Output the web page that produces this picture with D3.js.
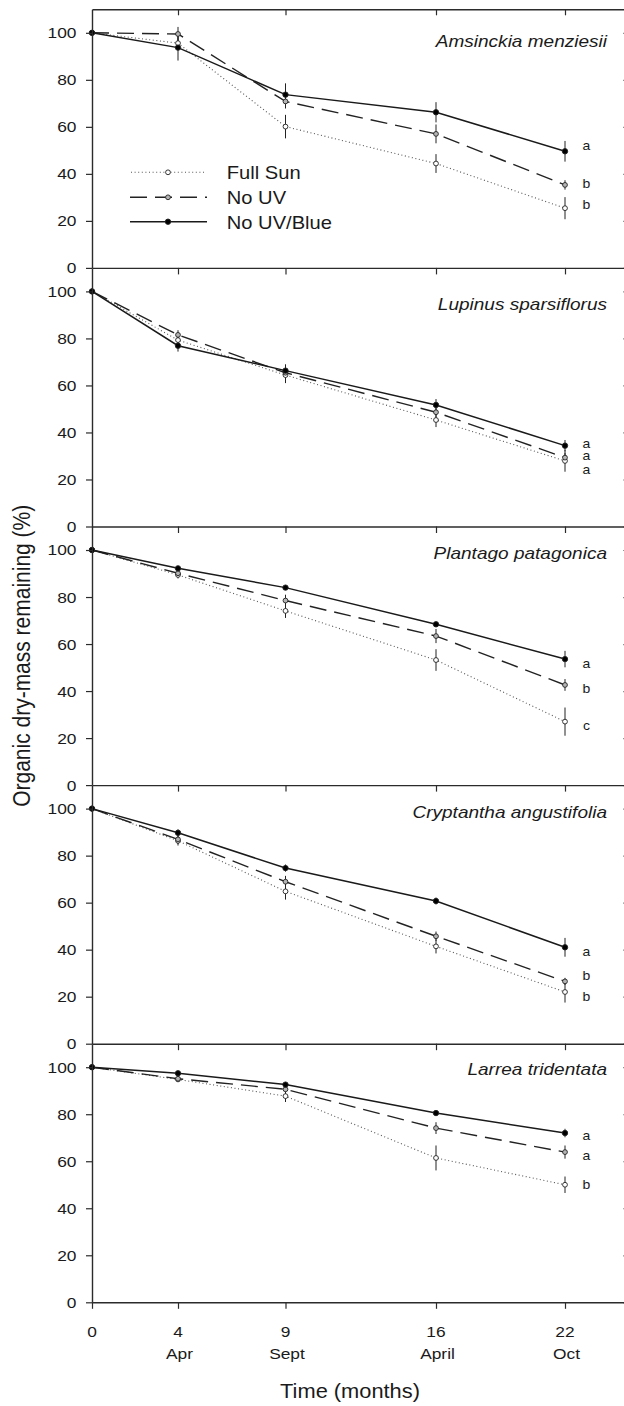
<!DOCTYPE html>
<html>
<head>
<meta charset="utf-8">
<script src="https://cdn.jsdelivr.net/npm/d3@7"></script>
<style>
  html, body { margin: 0; padding: 0; background: #fff; }
  svg { display: block; font-family: "Liberation Sans", Arial, Helvetica, sans-serif; }
</style>
</head>
<body>
<svg id="chart" width="624" height="1406"></svg>
<script>
// ---- data -------------------------------------------------------------
const months = [0, 4, 9, 16, 22];
const monthNames = ["", "Apr", "Sept", "April", "Oct"];
const yTicks = [0, 20, 40, 60, 80, 100];
const species = [
  "Amsinckia menziesii",
  "Lupinus sparsiflorus",
  "Plantago patagonica",
  "Cryptantha angustifolia",
  "Larrea tridentata"
];
const seriesNames = ["Full Sun", "No UV", "No UV/Blue"];

// organic dry-mass remaining (%), one row per species
const fullSun = [
  [100, 95.6, 60.1, 44.4, 25.4],
  [100, 79.3, 64.4, 45.3, 27.9],
  [100, 89.4, 74.1, 53.2, 27.0],
  [100, 86.3, 64.8, 41.4, 22.0],
  [100, 94.8, 87.7, 61.4, 50.0]
];
const noUV = [
  [100, 99.5, 70.8, 57.0, 35.3],
  [100, 81.5, 65.4, 48.6, 29.3],
  [100, 90.1, 78.5, 63.4, 42.6],
  [100, 86.9, 68.9, 45.7, 26.5],
  [100, 95.1, 90.6, 74.1, 63.9]
];
const noUVBlue = [
  [100, 93.7, 73.7, 66.2, 49.6],
  [100, 76.9, 66.3, 51.7, 34.4],
  [100, 92.2, 84.0, 68.4, 53.6],
  [100, 89.7, 74.7, 60.7, 41.0],
  [100, 97.4, 92.6, 80.5, 72.0]
];

// standard errors (± half-length of bars)
const fullSunErr = [
  [0, 3.0, 5.0, 4.0, 4.7],
  [0, 2.5, 3.4, 3.0, 4.6],
  [0, 1.5, 3.0, 4.6, 6.0],
  [0, 2.0, 3.5, 3.0, 4.5],
  [0, 1.0, 2.5, 5.3, 3.5]
];
const noUVErr = [
  [0, 3.0, 3.0, 4.0, 2.0],
  [0, 2.0, 3.0, 2.5, 2.0],
  [0, 1.5, 2.5, 3.0, 2.5],
  [0, 2.0, 2.5, 2.0, 1.5],
  [0, 1.0, 2.0, 2.5, 2.8]
];
const noUVBlueErr = [
  [0, 5.5, 4.8, 4.3, 4.4],
  [0, 2.5, 2.7, 2.5, 2.4],
  [0, 1.0, 1.0, 1.0, 3.5],
  [0, 1.5, 1.5, 1.5, 4.0],
  [0, 1.0, 1.0, 1.0, 1.8]
];

// significance letters at the final harvest: [letter, level]
const letters = [
  [["a", 52.0], ["b", 36.0], ["b", 27.0]],
  [["a", 35.4], ["a", 30.1], ["a", 24.0]],
  [["a", 51.5], ["b", 40.9], ["c", 25.1]],
  [["a", 39.3], ["b", 28.9], ["b", 20.0]],
  [["a", 70.7], ["a", 62.5], ["b", 49.9]]
];

// ---- layout -----------------------------------------------------------
const SX = 1.12;                 // horizontal glyph stretch
const panelTop0 = 9.3, panelH = 258.6;
const nameLevel = [94.1, 92.0, 96.1, 96.0, 96.5];   // species name baseline (y units)
const axisColor = "#2b2b2b";
const textColor = "#1a1a1a";
const fontStack = '"Liberation Sans", Arial, Helvetica, sans-serif';

const svg = d3.select("#chart");
svg.append("rect").attr("width", 624).attr("height", 1406).attr("fill", "#fff");

const x = d3.scaleLinear().domain([0, 25]).range([92, 629.5]);

const styles = [
  { data: fullSun, err: fullSunErr, dash: "1,2.6", stroke: "#555", width: 1.1, fill: "#fff", r: 2.4 },
  { data: noUV, err: noUVErr, dash: "17,8", stroke: "#222", width: 1.4, fill: "#b4b4b4", r: 2.4 },
  { data: noUVBlue, err: noUVBlueErr, dash: null, stroke: "#1a1a1a", width: 1.5, fill: "#000", r: 2.7 }
];

function styleAxis(g) {
  g.attr("font-family", fontStack).attr("font-size", null);
  g.select(".domain").attr("stroke", axisColor).attr("stroke-width", 1.4);
  g.selectAll(".tick line").attr("stroke", axisColor).attr("stroke-width", 1.2);
}

species.forEach((name, i) => {
  const top = panelTop0 + i * panelH;
  const bottom = top + panelH;
  const y = d3.scaleLinear().domain([0, 110]).range([bottom, top]);
  const g = svg.append("g");

  // error bars
  styles.forEach(s => {
    s.data[i].forEach((v, j) => {
      const e = s.err[i][j];
      if (!e) return;
      g.append("line")
        .attr("x1", x(months[j])).attr("x2", x(months[j]))
        .attr("y1", y(v - e)).attr("y2", y(v + e))
        .attr("stroke", "#222").attr("stroke-width", 1);
    });
  });

  // treatment lines
  const line = d3.line().x((d, j) => x(months[j])).y(d => y(d));
  styles.forEach(s => {
    g.append("path")
      .attr("d", line(s.data[i]))
      .attr("fill", "none")
      .attr("stroke", s.stroke)
      .attr("stroke-width", s.width)
      .attr("stroke-dasharray", s.dash);
  });

  // markers
  styles.forEach(s => {
    g.selectAll(null).data(s.data[i]).join("circle")
      .attr("cx", (d, j) => x(months[j]))
      .attr("cy", d => y(d))
      .attr("r", s.r)
      .attr("fill", s.fill)
      .attr("stroke", "#222")
      .attr("stroke-width", 0.9);
  });

  // left axis
  const ya = g.append("g").attr("transform", `translate(${x(0)},0)`)
    .call(d3.axisLeft(y).tickValues(yTicks).tickSize(6).tickSizeOuter(0));
  styleAxis(ya);
  ya.selectAll(".tick text")
    .attr("x", -15.5 / SX)
    .attr("transform", `scale(${SX},1)`)
    .attr("fill", textColor)
    .style("font-size", "15.5px");

  // right axis, ticks pointing inward
  const yr = g.append("g").attr("transform", `translate(${x(25)},0)`)
    .call(d3.axisLeft(y).tickValues(yTicks).tickSize(6).tickSizeOuter(0).tickFormat(""));
  styleAxis(yr);

  // bottom axis of the panel (ticks hang below)
  const last = i === species.length - 1;
  const xa = g.append("g").attr("transform", `translate(0,${bottom})`)
    .call(d3.axisBottom(x).tickValues(last ? months : months.slice(1))
      .tickSize(6.5).tickSizeOuter(0).tickFormat(""));
  styleAxis(xa);

  // frame top on the first panel with inward ticks
  if (i === 0) {
    const xt = g.append("g").attr("transform", `translate(0,${top})`)
      .call(d3.axisBottom(x).tickValues(months.slice(1)).tickSize(6).tickSizeOuter(0).tickFormat(""));
    styleAxis(xt);
  }

  // species name
  g.append("text")
    .attr("transform", `translate(607,${y(nameLevel[i])}) scale(${SX},1)`)
    .attr("text-anchor", "end")
    .attr("fill", textColor)
    .style("font-size", "17px")
    .style("font-style", "italic")
    .text(name);

  // significance letters
  letters[i].forEach(([t, v]) => {
    g.append("text")
      .attr("transform", `translate(${x(23)},${y(v)}) scale(${SX},1)`)
      .attr("text-anchor", "middle")
      .attr("dy", "0.35em")
      .attr("fill", textColor)
      .style("font-size", "12.5px")
      .text(t);
  });

  // legend in the first panel
  if (i === 0) {
    const rows = [163, 188, 212.4];
    styles.forEach((s, k) => {
      const ry = top + rows[k];
      const lg = g.append("g");
      lg.append("line")
        .attr("x1", k === 0 ? 131 : 130).attr("x2", k === 0 ? 204 : 207)
        .attr("y1", ry).attr("y2", ry)
        .attr("stroke", s.stroke).attr("stroke-width", s.width)
        .attr("stroke-dasharray", s.dash);
      lg.append("circle")
        .attr("cx", 168).attr("cy", ry).attr("r", s.r)
        .attr("fill", s.fill).attr("stroke", "#222").attr("stroke-width", 0.9);
      lg.append("text")
        .attr("transform", `translate(226.7,${ry + 7}) scale(${SX},1)`)
        .attr("fill", textColor)
        .style("font-size", "18px")
        .text(seriesNames[k]);
    });
  }
});

// x tick labels under the last panel
const xLab = svg.append("g");
months.forEach((m, j) => {
  xLab.append("text")
    .attr("transform", `translate(${x(m)},1337) scale(${SX},1)`)
    .attr("text-anchor", "middle")
    .attr("fill", textColor)
    .style("font-size", "15.5px")
    .text(m);
  if (monthNames[j]) {
    xLab.append("text")
      .attr("transform", `translate(${x(m) + 1.5},1359) scale(${SX},1)`)
      .attr("text-anchor", "middle")
      .attr("fill", textColor)
      .style("font-size", "15.5px")
      .text(monthNames[j]);
  }
});

// axis titles
svg.append("text")
  .attr("transform", `translate(350,1397.5) scale(${SX},1)`)
  .attr("text-anchor", "middle")
  .attr("fill", textColor)
  .style("font-size", "19.5px")
  .text("Time (months)");

svg.append("text")
  .attr("transform", `translate(30,${panelTop0 + 2.5 * panelH}) scale(${SX},1) rotate(-90)`)
  .attr("text-anchor", "middle")
  .attr("fill", textColor)
  .style("font-size", "21px")
  .text("Organic dry-mass remaining (%)");
</script>
</body>
</html>
